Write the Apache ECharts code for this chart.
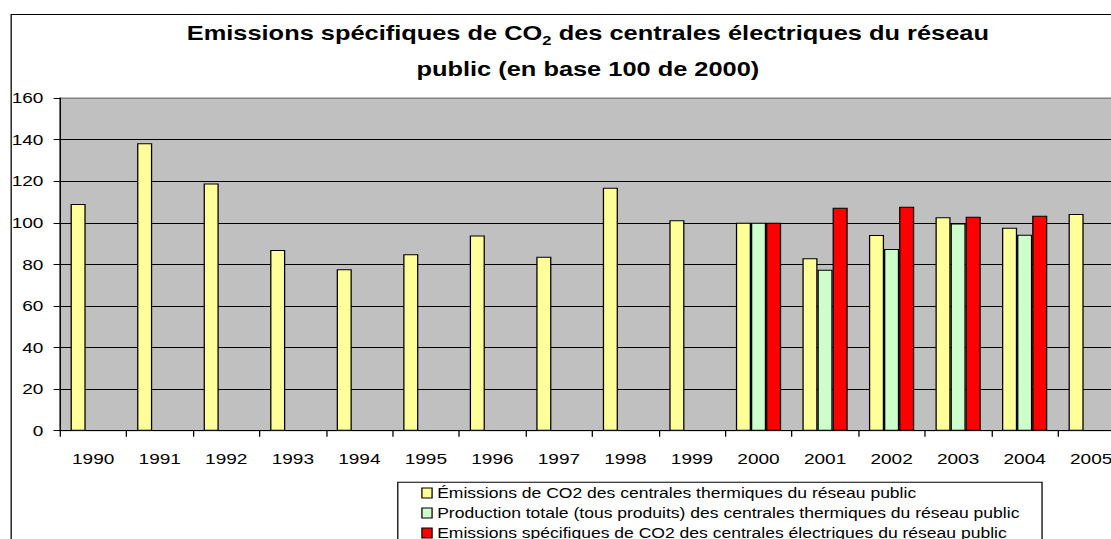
<!DOCTYPE html>
<html>
<head>
<meta charset="utf-8">
<script src="https://cdn.jsdelivr.net/npm/echarts@6/dist/echarts.min.js"></script>
<style>
html,body{margin:0;padding:0;background:#fff;overflow:hidden;width:1111px;height:539px;}
#wrap{width:1111px;height:539px;overflow:hidden;position:relative;}
#chart{width:875px;height:539px;transform:scaleX(1.2697);transform-origin:0 0;position:absolute;left:0;top:0;}
</style>
</head>
<body>
<div id="wrap"><div id="chart"></div></div>
<script>
var years = ['1990','1991','1992','1993','1994','1995','1996','1997','1998','1999','2000','2001','2002','2003','2004','2005'];
var emissionsThermiques = [109, 138.2, 118.9, 86.9, 77.7, 84.8, 93.9, 83.7, 116.8, 101.2, 100, 82.9, 94.1, 102.6, 97.6, 104.2];
var productionTotale = [null, null, null, null, null, null, null, null, null, null, 100, 77.4, 87.4, 99.7, 94.2, null];
var emissionsSpecifiques = [null, null, null, null, null, null, null, null, null, null, 100, 107.2, 107.7, 102.9, 103.4, null];
var seriesNames = [
  'Émissions de CO2 des centrales thermiques du réseau public',
  'Production totale (tous produits) des centrales thermiques du réseau public',
  'Emissions spécifiques de CO2 des centrales électriques du réseau public'
];
var yTicks = [0, 20, 40, 60, 80, 100, 120, 140, 160];

var FONT = 'Liberation Sans, Arial, sans-serif';
var chart = echarts.init(document.getElementById('chart'), null, {renderer: 'svg'});

function barSeries(name, data, color) {
  return {
    name: name, type: 'bar', data: data,
    barGap: '0%', barCategoryGap: '32%',
    itemStyle: {color: color, borderColor: '#000', borderWidth: 1},
    emphasis: {disabled: true}
  };
}

function legendRow(name, top) {
  return {
    orient: 'vertical', left: 331.8, top: top,
    padding: 0,
    itemWidth: 8, itemHeight: 10, itemGap: 0,
    icon: 'rect',
    itemStyle: {borderColor: '#000', borderWidth: 1},
    textStyle: {fontSize: 13.8, fontFamily: FONT, color: '#000', lineHeight: 20, padding: [0,0,0,-1]},
    data: [name],
    selectedMode: false
  };
}

chart.setOption({
  backgroundColor: '#fff',
  animation: false,
  textStyle: {fontFamily: FONT},
  graphic: [
    {type: 'rect', left: 6.3, top: 12, shape: {x: 0, y: 0, width: 1000, height: 1000},
     style: {fill: 'none', stroke: '#000', lineWidth: 1}, silent: true, z: -10},
    {type: 'rect', left: 312.8, top: 481.7, shape: {x: 0, y: 0, width: 507.4, height: 100},
     style: {fill: '#fff', stroke: '#000', lineWidth: 1}, silent: true, z: -5},
    {type: 'text', x: 463, y: 19, silent: true,
     style: {
       text: '{t|Emissions spécifiques de CO}{s|2}{t| des centrales électriques du réseau}',
       align: 'center', verticalAlign: 'top',
       rich: {
         t: {fontSize: 20, fontWeight: 'bold', fontFamily: FONT, lineHeight: 28, fill: '#000'},
         s: {fontSize: 13, fontWeight: 'bold', fontFamily: FONT, lineHeight: 15, verticalAlign: 'bottom', fill: '#000'}
       }
     }},
    {type: 'text', x: 463, y: 55, silent: true,
     style: {text: 'public (en base 100 de 2000)', align: 'center', verticalAlign: 'top',
       fontSize: 20, fontWeight: 'bold', fontFamily: FONT, lineHeight: 28, fill: '#000'}}
  ],
  grid: {
    left: 47.2, width: 838.4, top: 98, height: 332.7,
    outerBoundsMode: 'none',
    show: true, backgroundColor: '#C0C0C0', borderColor: '#808080', borderWidth: 1,
    containLabel: false
  },
  legend: [
    legendRow(seriesNames[0], 483),
    legendRow(seriesNames[1], 503),
    legendRow(seriesNames[2], 523)
  ],
  xAxis: {
    type: 'category', data: years,
    axisLine: {lineStyle: {color: '#000', width: 1}},
    axisTick: {show: true, length: 6, lineStyle: {color: '#000'}},
    axisLabel: {fontSize: 15, fontFamily: FONT, color: '#000', margin: 21, interval: 0}
  },
  yAxis: {
    type: 'value', min: 0, max: 160, interval: 20,
    axisLine: {show: true, lineStyle: {color: '#000', width: 1}},
    axisTick: {show: true, length: 5, lineStyle: {color: '#000'}},
    axisLabel: {fontSize: 15, fontFamily: FONT, color: '#000', margin: 13,
      formatter: function (v) { return yTicks.indexOf(v) >= 0 ? String(v) : ''; }},
    splitLine: {show: true, lineStyle: {color: ['#000','#000','#000','#000','#000','#000','#000','#000','#808080'], width: 1}}
  },
  series: [
    barSeries(seriesNames[0], emissionsThermiques, '#FFFF99'),
    barSeries(seriesNames[1], productionTotale, '#CCFFCC'),
    barSeries(seriesNames[2], emissionsSpecifiques, '#FF0000')
  ]
});
</script>
</body>
</html>
